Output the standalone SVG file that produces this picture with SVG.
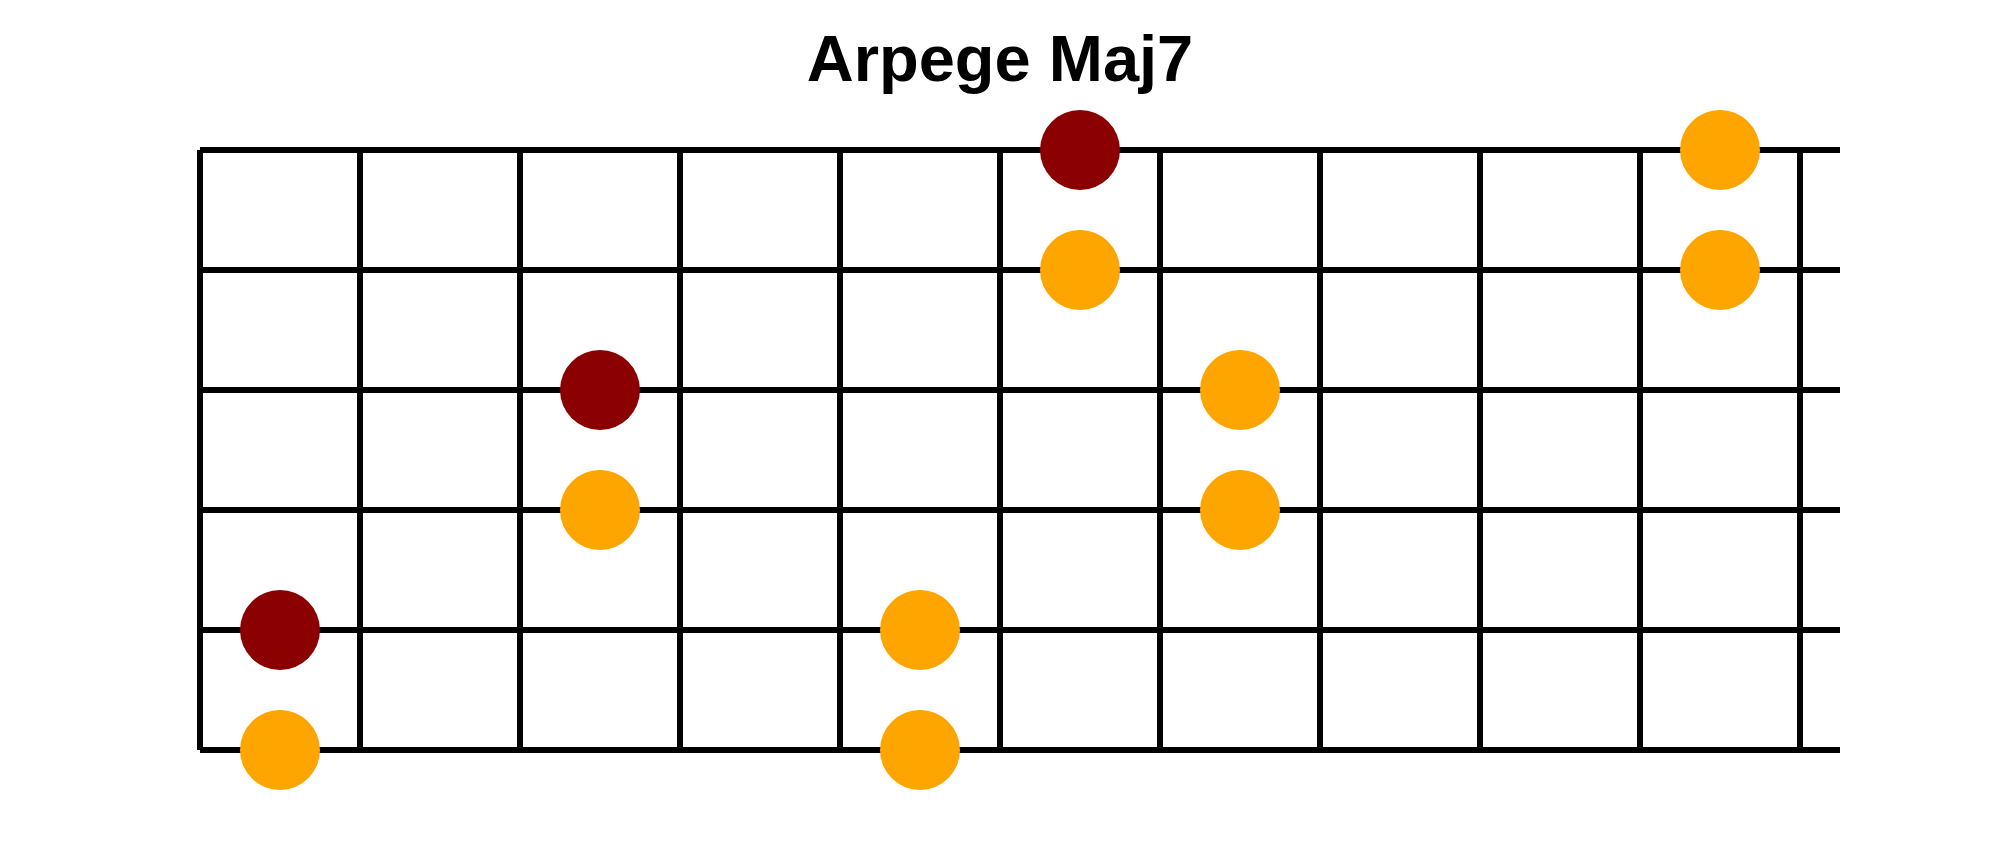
<svg xmlns="http://www.w3.org/2000/svg" width="2000" height="850" viewBox="0 0 2000 850">
<style>
.title{font-family:"Liberation Sans",Arial,sans-serif;font-weight:bold;font-size:65px;fill:#000;text-anchor:middle}
.s{stroke:#000;stroke-width:6;fill:none}
.root{fill:#8B0000}
.note{fill:#FFA500}
</style>
<rect width="2000" height="850" fill="#fff"/>
<text class="title" x="1000" y="81">Arpege Maj7</text>
<g id="fretboard">
<g id="strings" class="s">
<line x1="200" y1="150" x2="1840" y2="150"/>
<line x1="200" y1="270" x2="1840" y2="270"/>
<line x1="200" y1="390" x2="1840" y2="390"/>
<line x1="200" y1="510" x2="1840" y2="510"/>
<line x1="200" y1="630" x2="1840" y2="630"/>
<line x1="200" y1="750" x2="1840" y2="750"/>
</g>
<g id="frets" class="s">
<line x1="200" y1="150" x2="200" y2="750"/>
<line x1="360" y1="150" x2="360" y2="750"/>
<line x1="520" y1="150" x2="520" y2="750"/>
<line x1="680" y1="150" x2="680" y2="750"/>
<line x1="840" y1="150" x2="840" y2="750"/>
<line x1="1000" y1="150" x2="1000" y2="750"/>
<line x1="1160" y1="150" x2="1160" y2="750"/>
<line x1="1320" y1="150" x2="1320" y2="750"/>
<line x1="1480" y1="150" x2="1480" y2="750"/>
<line x1="1640" y1="150" x2="1640" y2="750"/>
<line x1="1800" y1="150" x2="1800" y2="750"/>
</g>
</g>
<g id="notes">
<circle id="n1" class="root" cx="1080" cy="150" r="40"/>
<circle id="n2" class="note" cx="1080" cy="270" r="40"/>
<circle id="n3" class="note" cx="1720" cy="150" r="40"/>
<circle id="n4" class="note" cx="1720" cy="270" r="40"/>
<circle id="n5" class="root" cx="600" cy="390" r="40"/>
<circle id="n6" class="note" cx="600" cy="510" r="40"/>
<circle id="n7" class="note" cx="1240" cy="390" r="40"/>
<circle id="n8" class="note" cx="1240" cy="510" r="40"/>
<circle id="n9" class="root" cx="280" cy="630" r="40"/>
<circle id="n10" class="note" cx="280" cy="750" r="40"/>
<circle id="n11" class="note" cx="920" cy="630" r="40"/>
<circle id="n12" class="note" cx="920" cy="750" r="40"/>
</g>
</svg>
